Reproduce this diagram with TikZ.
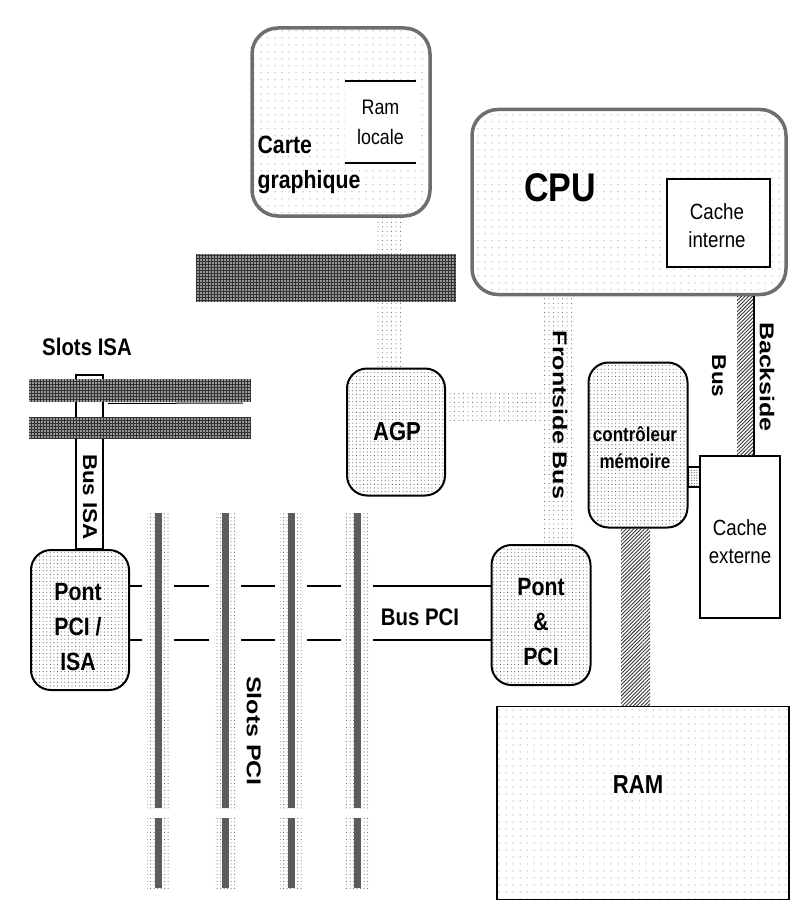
\documentclass[tikz,border=0pt]{standalone}
\usepackage{fontspec}
\setmainfont{Liberation Sans}
\newfontfamily\narrowfont[FakeStretch=0.85]{Liberation Sans}
\newfontfamily\widefont[FakeStretch=1.25]{Liberation Sans}
\newfontfamily\semiwidefont[FakeStretch=1.12]{Liberation Sans}
\usetikzlibrary{
  patterns,
  patterns.meta,
  positioning,
  calc
}
\definecolor{pcBorder}{HTML}{6E6E6E}
\definecolor{pcDots}{HTML}{555555}
\definecolor{pcDark}{HTML}{333333}
\tikzset{
  bigbox/.style={
    draw=pcBorder, line width=3.5pt, rounded corners=26pt, inner sep=0pt,
    pattern={Dots[distance=7pt,radius=.5pt,xshift=2pt]}, pattern color=pcDots
  },
  chipbox/.style={
    draw, line width=2pt, rounded corners=20pt, inner sep=0pt,
    pattern={Dots[distance=3.6pt,radius=.55pt]}, pattern color=pcDots
  },
  plainbox/.style={draw, line width=1.6pt, fill=white, inner sep=0pt},
  dotbus/.style={pattern={Dots[distance=4.5pt,radius=.5pt]}, pattern color=pcDots},
  hatchbus/.style={fill=black!30, pattern={Lines[angle=45,distance=2.6pt,line width=.9pt]}, pattern color=pcDark},
  slotbar/.style={
    draw=pcDark, line width=1pt, fill=pcDark, inner sep=0pt,
    postaction={pattern={Dots[distance=3pt,radius=.8pt]}, pattern color=white}
  },
  pcislot/.style={
    minimum width=32pt, inner sep=0pt, fill=white,
    path picture={
      \path[pattern={Dots[distance=3.5pt,radius=.5pt]}, pattern color=pcDots]
        ([xshift=-11pt]path picture bounding box.south) rectangle ([xshift=11pt]path picture bounding box.north);
      \fill[pcDark!80] ([xshift=-3.5pt]path picture bounding box.south) rectangle ([xshift=3.5pt]path picture bounding box.north);
    }
  },
  pciline/.style={line width=1.6pt},
  tag/.style={font=\narrowfont\fontsize{25}{35}\selectfont\bfseries, inner sep=0pt, align=center},
  thintag/.style={font=\narrowfont\fontsize{22}{28}\selectfont, inner sep=0pt, align=center},
  tagv/.style={font=\widefont\fontsize{20}{24}\selectfont\bfseries, inner sep=0pt, rotate=-90}
}
\begin{document}
\begin{tikzpicture}[x=1pt,y=-1pt]
  \useasboundingbox (0,0) rectangle (800,920);

  % boxes
  \node[bigbox, minimum width=178pt, minimum height=188pt] (carte) at (341,122) {};
  \node[bigbox, minimum width=314pt, minimum height=185pt] (cpu) at (629,202) {};
  \node[thintag, minimum width=71pt, minimum height=82pt, fill=white, font=\narrowfont\fontsize{21}{30}\selectfont] (ramloc) at (380.5,122) {Ram\\locale};
  \draw[line width=1.5pt] (ramloc.north west) -- (ramloc.north east);
  \draw[line width=1.5pt] (ramloc.south west) -- (ramloc.south east);
  \node[tag, align=left] (cartetxt) at (309,165) {Carte\\graphique};
  \node[tag, font=\narrowfont\fontsize{40}{44}\selectfont\bfseries] (cputxt) at (560,188) {CPU};
  \node[plainbox, minimum width=103pt, minimum height=88pt, line width=1.3pt] (cacheint) at (718.5,223) {};
  \node[thintag] (cacheinttxt) at (717,226) {Cache\\interne};

  \node[slotbar, minimum width=259pt, minimum height=47pt] (agpslot) at (326,278) {};
  \node[chipbox, minimum width=98pt, minimum height=127pt] (agp) at (396,432) {};
  \node[tag, font=\narrowfont\fontsize{26}{32}\selectfont\bfseries] (agptxt) at (397,432) {AGP};
  \node[chipbox, minimum width=99pt, minimum height=165pt] (ctrl) at (638,445) {};
  \node[tag, font=\narrowfont\fontsize{20}{27}\selectfont\bfseries] (ctrltxt) at (635,448) {contrôleur\\mémoire};
  \node[plainbox, minimum width=80pt, minimum height=162pt] (cacheext) at (740,537) {};
  \node[thintag] (cacheexttxt) at (740,542) {Cache\\externe};
  \node[chipbox, minimum width=99pt, minimum height=140pt] (pontpci) at (541,615) {};
  \node[tag] (pontpcitxt) at (541,622) {Pont\\\&\\PCI};
  \node[chipbox, minimum width=98pt, minimum height=140pt] (pontisa) at (80,620) {};
  \node[tag] (pontisatxt) at (78,627) {Pont\\PCI /\\ISA};
  \node[bigbox, rounded corners=0pt, draw=black, line width=1.6pt, minimum width=292pt, minimum height=193pt] (ram) at (643,803) {};
  \node[tag, font=\narrowfont\fontsize{26}{30}\selectfont\bfseries] (ramtxt) at (638,785) {RAM};

  % buses
  \path[dotbus] (carte.south -| 377,0) rectangle (agpslot.north -| 403,0);
  \path[dotbus] (agp.north -| 377,0) rectangle (agpslot.south -| 403,0);
  \path[dotbus] (cpu.south -| 544,0) rectangle (pontpci.north -| 574,0);
  \path[dotbus] ([yshift=40pt]agp.east) rectangle ([yshift=12pt]agp.east -| 544,0);
  \path[hatchbus] ([xshift=-17pt]ctrl.south) rectangle ([xshift=12pt]ram.north -| ctrl);
  \path[hatchbus] (cpu.south -| 737,0) rectangle (cacheext.north -| 753,0);
  \draw[line width=2.5pt] (cpu.south -| 754,0) -- (cacheext.north -| 754,0);
  \draw[line width=1.3pt, pattern={Dots[distance=2.6pt,radius=.6pt]}, pattern color=pcDots] (ctrl.east |- 0,467) rectangle (cacheext.west |- 0,487);

  % slots isa
  \draw[line width=1.6pt, fill=white] (pontisa.north -| 76,0) rectangle (103,375);
  \node[slotbar, minimum width=221pt, minimum height=22pt] (isaa) at (139.5,390) {};
  \node[slotbar, minimum width=221pt, minimum height=21pt] (isab) at (139.5,427.5) {};
  \draw[line width=1pt] (isaa.south -| 108,0) ++(0,2) -- (243,403);
  \node[tag, font=\narrowfont\fontsize{24}{28}\selectfont\bfseries] (isatxt) at (87,347) {Slots ISA};
  \node[tagv, font=\semiwidefont\fontsize{20}{24}\selectfont\bfseries] (busisa) at (90,497) {Bus ISA};

  % bus pci
  \draw[pciline] (pontisa.east |- 0,586) -- (pontpci.west |- 0,586);
  \draw[pciline] (pontisa.east |- 0,640) -- (pontpci.west |- 0,640);
  \node[pcislot, minimum height=295pt] (pcia) at (158,660.5) {};
  \node[pcislot, minimum height=295pt] (pcib) at (225,660.5) {};
  \node[pcislot, minimum height=295pt] (pcic) at (291,660.5) {};
  \node[pcislot, minimum height=295pt] (pcid) at (357,660.5) {};
  \node[pcislot, minimum height=70pt] (pciax) at (158,853) {};
  \node[pcislot, minimum height=70pt] (pcibx) at (225,853) {};
  \node[pcislot, minimum height=70pt] (pcicx) at (291,853) {};
  \node[pcislot, minimum height=70pt] (pcidx) at (357,853) {};

  % labels
  \node[tag, font=\narrowfont\fontsize{24}{28}\selectfont\bfseries] (buspci) at (420,617) {Bus PCI};
  \node[tagv] (slotspci) at (254,731) {Slots PCI};
  \node[tagv] (front) at (560,415) {Frontside Bus};
  \node[tagv] (backside) at (767,377) {Backside};
  \node[tagv, font=\semiwidefont\fontsize{20}{24}\selectfont\bfseries] (busb) at (719,376) {Bus};
\end{tikzpicture}
\end{document}
